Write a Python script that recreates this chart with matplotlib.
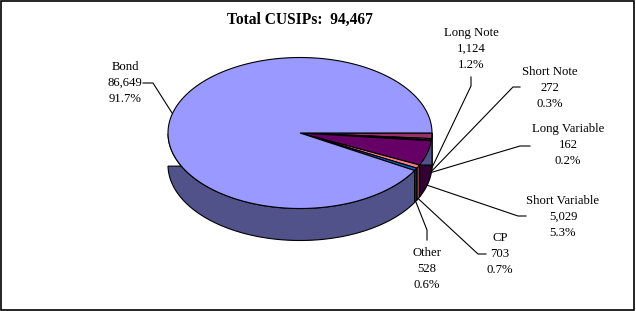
import numpy as np
import matplotlib.pyplot as plt
from matplotlib.patches import Polygon, Rectangle

#%%
# data (clockwise from 3 o'clock)
categories = ["Long Note", "Short Note", "Long Variable", "Short Variable", "CP", "Other", "Bond"]
counts = [1124, 272, 162, 5029, 703, 528, 86649]
pct_labels = ["1.2%", "0.3%", "0.2%", "5.3%", "0.7%", "0.6%", "91.7%"]
total = 94467

top_colors = ["#993366", "#FFFFCC", "#CCFFFF", "#660066", "#FF8080", "#0066CC", "#9999FF"]
side_colors = ["#4c1a33", "#808066", "#668080", "#330033", "#804040", "#003366", "#52528a"]

# pie geometry in pixels
cx, cy = 300, 133
a, b = 132, 75.5
depth = 32

plt.rcParams['font.family'] = ['Liberation Serif', 'DejaVu Serif']

fig = plt.figure(figsize=(6.36, 3.11), dpi=100)
ax = fig.add_axes([0, 0, 1, 1])
ax.set_xlim(0, 636)
ax.set_ylim(311, 0)
ax.axis('off')

fracs = np.array(counts) / np.sum(counts)
edges = -360 * np.concatenate([[0], np.cumsum(fracs)])   # clockwise angles

def pt(t, d=0):
    r = np.radians(t)
    return cx + a * np.cos(r), cy - b * np.sin(r) + d

# side faces (only front half visible)
for i in range(len(counts)):
    t1, t2 = edges[i], edges[i + 1]
    lo, hi = min(t1, t2), max(t1, t2)
    ts = np.linspace(lo, hi, 200)
    ts = ts[np.sin(np.radians(ts)) <= 0.0001]
    if len(ts) < 2:
        continue
    top = [pt(t) for t in ts]
    bot = [pt(t, depth) for t in ts[::-1]]
    ax.add_patch(Polygon(top + bot, closed=True, facecolor=side_colors[i],
                         edgecolor="black", lw=0.8))

# top faces
for i in range(len(counts)):
    ts = np.linspace(edges[i], edges[i + 1], 300)
    poly = [(cx, cy)] + [pt(t) for t in ts]
    ax.add_patch(Polygon(poly, closed=True, facecolor=top_colors[i],
                         edgecolor="black", lw=0.8))

# labels: text center and leader elbow points
label_pos = [(471, 49), (550, 88), (568, 145), (563, 217), (500, 254), (427, 269), (125, 83)]
elbows = [[(471, 77), (471, 86)],
          [(520, 87), (513, 87)],
          [(530, 146), (520, 146)],
          [(526, 216), (518, 216)],
          [(486, 254), (478, 254)],
          [(427, 240), (427, 230)],
          [(143, 83), (153, 83)]]

for i in range(len(counts)):
    mid = (edges[i] + edges[i + 1]) / 2
    d = depth if np.sin(np.radians(mid)) < 0 else 0
    ex, ey = pt(mid, d)
    xs = [p[0] for p in elbows[i]] + [ex]
    ys = [p[1] for p in elbows[i]] + [ey]
    ax.plot(xs, ys, color="black", lw=0.8)
    txt = f"{categories[i]}\n{counts[i]:,}\n{pct_labels[i]}"
    ax.text(label_pos[i][0], label_pos[i][1], txt, ha="center", va="center",
            fontsize=9.2, linespacing=1.42)

ax.text(300, 20, f"Total CUSIPs:  {total:,}", ha="center", va="center",
        fontsize=11.2, fontweight="bold")

ax.add_patch(Rectangle((0.5, 0.5), 633, 309, fill=False, edgecolor="black", lw=1.2))

fig.savefig("out.png", dpi=100)
